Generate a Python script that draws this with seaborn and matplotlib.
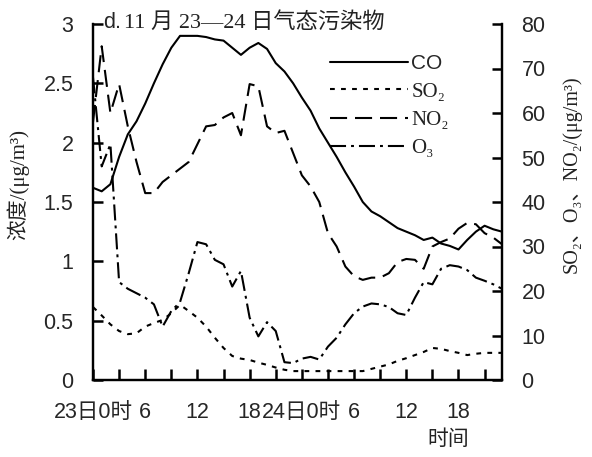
import matplotlib
matplotlib.use("Agg")
import matplotlib.pyplot as plt
import seaborn as sns
import pandas as pd

# hours since 23日 0时
hours = list(range(48))

co = [1.62, 1.59, 1.65, 1.88, 2.07, 2.18, 2.33, 2.50, 2.66, 2.80,
      2.90, 2.90, 2.90, 2.89, 2.87, 2.86, 2.80, 2.74, 2.80, 2.84,
      2.79, 2.67, 2.60, 2.50, 2.38, 2.27, 2.12, 2.00, 1.88, 1.75,
      1.63, 1.50, 1.42, 1.38, 1.33, 1.28, 1.25, 1.22, 1.18, 1.20,
      1.15, 1.13, 1.10, 1.18, 1.25, 1.30, 1.27, 1.25]
so2 = [16.4, 14.5, 12.5, 11.0, 10.3, 10.5, 12.0, 12.8, 13.5, 15.0,
       16.9, 15.5, 14.0, 12.0, 9.5, 7.2, 5.4, 4.8, 4.5, 3.9,
       3.4, 2.8, 2.3, 2.0, 2.0, 2.0, 2.0, 2.0, 2.0, 2.0,
       2.0, 2.0, 2.5, 3.0, 3.5, 4.3, 4.9, 5.6, 6.3, 7.2,
       7.0, 6.5, 6.1, 5.6, 5.9, 6.1, 6.1, 6.1]
no2 = [58.0, 75.0, 60.0, 66.5, 57.0, 49.0, 42.0, 42.0, 44.5, 46.0,
       47.5, 49.0, 53.0, 57.0, 57.3, 59.0, 60.0, 55.0, 66.5, 66.0,
       57.0, 55.5, 56.0, 51.0, 46.0, 43.5, 40.0, 33.0, 30.0, 25.5,
       23.3, 22.5, 23.0, 23.0, 24.0, 26.5, 27.2, 27.0, 25.0, 30.0,
       31.0, 31.8, 34.0, 35.3, 35.0, 33.0, 32.0, 30.5]
o3 = [68.0, 48.0, 53.0, 22.0, 20.5, 19.5, 18.5, 17.0, 12.0, 15.5,
      17.5, 24.0, 31.0, 30.5, 27.0, 26.0, 21.0, 24.5, 14.0, 9.8,
      13.0, 11.0, 4.0, 3.8, 4.8, 5.2, 4.6, 7.5, 9.5, 12.5,
      15.0, 16.5, 17.2, 17.0, 16.4, 15.0, 14.6, 18.5, 22.0, 21.5,
      25.0, 25.8, 25.5, 24.7, 23.0, 22.3, 21.5, 20.5]

tick_pos = list(range(0, 46, 3))
tick_text = ["23日0时", "", "6", "", "12", "", "18", "",
             "24日0时", "", "6", "", "12", "", "18", ""]

df = pd.DataFrame({"hour": hours, "CO": co, "SO2": so2, "NO2": no2, "O3": o3})

sns.set_style("ticks")
plt.rcParams.update({
    "font.family": ["Liberation Sans", "Noto Sans CJK SC"],
    "xtick.direction": "in", "ytick.direction": "in",
    "xtick.labelsize": 15.5, "ytick.labelsize": 15.5,
    "axes.axisbelow": False,
})
serif = ["Liberation Serif", "DejaVu Serif", "Noto Sans CJK SC"]

fig, ax = plt.subplots(figsize=(5.92, 4.57), dpi=100)
fig.subplots_adjust(left=93 / 592, right=502 / 592, bottom=1 - 380 / 457, top=1 - 24 / 457)
ax2 = ax.twinx()

lw = 1.5
sns.lineplot(data=df, x="hour", y="CO", ax=ax, color="black", lw=lw, label="CO", legend=False)
sns.lineplot(data=df, x="hour", y="SO2", ax=ax2, color="black", lw=lw, label="SO₂", legend=False)
ax2.lines[-1].set_dashes((2.3, 3.0))
sns.lineplot(data=df, x="hour", y="NO2", ax=ax2, color="black", lw=lw, label="NO₂", legend=False)
ax2.lines[-1].set_dashes((8.2, 3.8))
sns.lineplot(data=df, x="hour", y="O3", ax=ax2, color="black", lw=lw, label="O₃", legend=False)
ax2.lines[-1].set_dashes((7.7, 2.4, 1.4, 2.4))

ax.set_xlim(0, 47)
ax.set_ylim(0, 3)
ax2.set_ylim(0, 80)
ax.set_yticks([0, 0.5, 1, 1.5, 2, 2.5, 3])
ax.set_yticklabels(["0", "0.5", "1", "1.5", "2", "2.5", "3"])
ax2.set_yticks(range(0, 81, 10))
ax.set_xticks(tick_pos)
ax.set_xticklabels(tick_text)
ax.set_xlabel("")
ax.set_ylabel("")
ax2.set_ylabel("")

for a in (ax, ax2):
    a.spines["top"].set_visible(False)
    for s in ("left", "right", "bottom"):
        a.spines[s].set_linewidth(1.6)
        a.spines[s].set_color("black")
ax.tick_params(axis="y", left=True, right=False, direction="in",
               length=7, width=1.8, color="black", pad=14)
ax.tick_params(axis="x", bottom=True, top=False, direction="in",
               length=8, width=1.8, color="black", pad=16)
ax2.tick_params(axis="y", right=True, left=False, direction="in",
                length=7, width=1.8, color="black", pad=14)

handles = ax.lines[:1] + ax2.lines[:3]
leg = ax2.legend(handles=handles, labels=["CO", "SO₂", "NO₂", "O₃"], loc="upper left",
                 bbox_to_anchor=(0.58, 0.915), frameon=False, fontsize=15,
                 handlelength=3.75, handletextpad=0.15, labelspacing=0.42,
                 borderpad=0, borderaxespad=0)
for t in leg.get_texts()[1:]:
    t.set_family(serif)
    t.set_color("#222222")

fig.text(103 / 592, 1 - 22 / 457, "d.", fontsize=15.5, va="center", ha="left")
fig.text(124 / 592, 1 - 22 / 457, "11 月 23—24 日气态污染物", fontsize=16, va="center",
         ha="left", family=serif, color="#222222")
fig.text(18 / 592, 1 - 185 / 457, "浓度/(μg/m³)", rotation=90, fontsize=15,
         va="center", ha="center", family=serif, color="#222222")
fig.text(572 / 592, 1 - 174 / 457, "SO₂、O₃、NO₂/(μg/m³)", rotation=90, fontsize=14.5,
         va="center", ha="center", family=serif, color="#222222")
fig.text(448 / 592, 1 - 440 / 457, "时间", fontsize=15, va="center", ha="center",
         family=serif, color="#222222")

fig.savefig("out.png", dpi=100)
